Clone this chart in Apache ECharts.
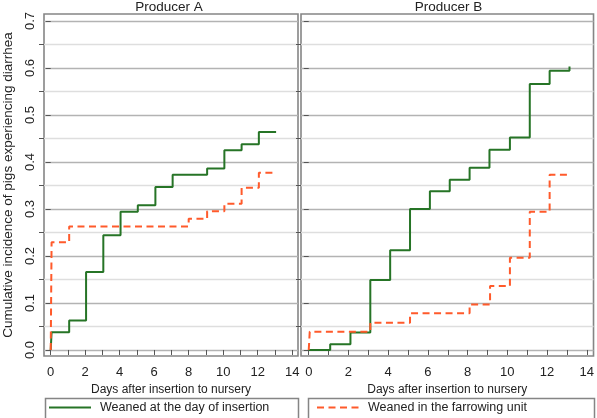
<!DOCTYPE html>
<html>
<head>
<meta charset="utf-8">
<script src="https://cdn.jsdelivr.net/npm/echarts@6/dist/echarts.min.js"></script>
<style>
html,body{margin:0;padding:0;background:#fff;}
#c{width:597px;height:418px;}
</style>
</head>
<body>
<div id="c"></div>
<script>
// ---- data ----
var panelTitles = ['Producer A', 'Producer B'];
var seriesNames = ['Weaned at the day of insertion', 'Weaned in the farrowing unit'];

var daysA_insert = [0, 0.05, 1.07, 2.05, 3.05, 4.05, 5.05, 6.07, 7.07, 9.07, 10.07, 11.07, 12.07, 13.07];
var incA_insert  = [0, 0.038, 0.063, 0.166, 0.244, 0.294, 0.308, 0.347, 0.373, 0.386, 0.425, 0.438, 0.464, 0.464];

var daysA_farrow = [0, 0.05, 1.07, 8.0, 9.07, 10.07, 11.07, 12.07, 13.07];
var incA_farrow  = [0, 0.229, 0.263, 0.279, 0.295, 0.311, 0.345, 0.377, 0.377];

var daysB_insert = [0, 1.08, 2.1, 3.1, 4.1, 5.1, 6.1, 7.1, 8.1, 9.1, 10.13, 11.13, 12.13, 13.13];
var incB_insert  = [0, 0.012, 0.037, 0.149, 0.212, 0.300, 0.338, 0.362, 0.388, 0.426, 0.452, 0.566, 0.594, 0.603];

var daysB_farrow = [0, 0.05, 3.1, 5.1, 8.1, 9.13, 10.13, 11.13, 12.13, 13.13];
var incB_farrow  = [0, 0.039, 0.058, 0.078, 0.097, 0.136, 0.196, 0.294, 0.373, 0.373];

var xTickLabels = [0, 2, 4, 6, 8, 10, 12, 14];
var xTicks = [0,1,2,3,4,5,6,7,8,9,10,11,12,13,14];
var yMajorTicks = [0, 0.1, 0.2, 0.3, 0.4, 0.5, 0.6, 0.7];
var yMinorTicks = [0.05, 0.15, 0.25, 0.35, 0.45, 0.55, 0.65];

var xAxisTitle = 'Days after insertion to nursery';
var yAxisTitle = 'Cumulative incidence of pigs experiencing diarrhea';

// ---- styling ----
var FONT = 'Liberation Sans, Arial, sans-serif';
var GREEN = '#267426';
var ORANGE = '#ff5a2b';
var BORDER = '#858585';
var MAJOR = '#b3b3b3';
var MINOR = '#dedede';
var XMIN = -0.39, XMAX = 14.34, YMIN = -0.0128, YMAX = 0.7149;

function zip(xs, ys){ return xs.map(function(x,i){ return [x, ys[i]]; }); }

var grids = [
  {left: 40, right: 299, top: 14, bottom: 62, show: true, borderColor: BORDER, borderWidth: 1.6, backgroundColor: '#fff'},
  {left: 301, right: 1, top: 14, bottom: 62, show: true, borderColor: BORDER, borderWidth: 1.6, backgroundColor: '#fff'}
];

function mkX(gi){
  return {
    type: 'value', gridIndex: gi, min: XMIN, max: XMAX,
    name: xAxisTitle, nameLocation: 'middle', nameGap: 20,
    nameTextStyle: {fontFamily: FONT, fontSize: 12, color: '#222'},
    axisLine: {show: false},
    axisTick: {show: true, length: 5, customValues: xTicks, lineStyle: {color: '#555', width: 1}},
    axisLabel: {show: true, customValues: xTickLabels, margin: 10, fontFamily: FONT, fontSize: 13, color: '#222'},
    splitLine: {show: false}
  };
}
function mkYMajor(gi, labels){
  var ax = {
    type: 'value', gridIndex: gi, min: YMIN, max: YMAX, position: 'left',
    axisLine: {show: false},
    axisTick: {show: true, length: 5, customValues: yMajorTicks, lineStyle: {color: '#555', width: 1}},
    axisLabel: {show: labels, customValues: yMajorTicks, rotate: 90, margin: 7, fontFamily: FONT, fontSize: 13, color: '#222',
      formatter: function(v){ return v.toFixed(1); }},
    splitLine: {show: true, lineStyle: {color: MAJOR, width: 1.3}}
  };
  if (labels) {
    ax.name = yAxisTitle; ax.nameLocation = 'middle'; ax.nameGap = 29; ax.nameRotate = 90;
    ax.nameTextStyle = {fontFamily: FONT, fontSize: 13.5, color: '#222'};
  }
  return ax;
}
function mkYMinor(gi){
  return {
    type: 'value', gridIndex: gi, min: YMIN, max: YMAX, position: 'left',
    axisLine: {show: false},
    axisTick: {show: true, length: 5, customValues: yMinorTicks, lineStyle: {color: '#555', width: 1}},
    axisLabel: {show: false},
    splitLine: {show: true, lineStyle: {color: MINOR, width: 1.3}}
  };
}

function stepSeries(name, xi, yi, xs, ys, color, dashed){
  return {
    name: name, type: 'line', step: 'end', xAxisIndex: xi, yAxisIndex: yi,
    data: zip(xs, ys), symbol: 'none', silent: true, animation: false, z: dashed ? 4 : 3,
    lineStyle: {color: color, width: 2, type: dashed ? [7, 4.5] : 'solid'},
    itemStyle: {color: color}
  };
}

var legendItemStyle = {color: 'rgba(0,0,0,0)', borderColor: 'rgba(0,0,0,0)', borderWidth: 0};
var option = {
  animation: false,
  backgroundColor: '#fff',
  textStyle: {fontFamily: FONT},
  grid: grids,
  xAxis: [mkX(0), mkX(1)],
  yAxis: [mkYMajor(0, true), mkYMinor(0), mkYMajor(1, false), mkYMinor(1)],
  legend: [
    {data: [seriesNames[0]], left: 43, top: 396, itemWidth: 42, itemHeight: 14, itemStyle: legendItemStyle,
     textStyle: {fontFamily: FONT, fontSize: 12.5, color: '#222', padding: [0,0,0,4]}, selectedMode: false},
    {data: [seriesNames[1]], left: 311, top: 396, itemWidth: 42, itemHeight: 14, itemStyle: legendItemStyle,
     textStyle: {fontFamily: FONT, fontSize: 12.5, color: '#222', padding: [0,0,0,4]}, selectedMode: false}
  ],
  graphic: [
    {type: 'rect', left: 43, top: 396, shape: {width: 253, height: 21}, style: {fill: 'none', stroke: BORDER, lineWidth: 1.5}, silent: true},
    {type: 'rect', left: 306, top: 396, shape: {width: 286, height: 21}, style: {fill: 'none', stroke: BORDER, lineWidth: 1.5}, silent: true},
    {type: 'text', x: 169, y: 0, style: {text: panelTitles[0], fontFamily: FONT, fontSize: 13.5, fill: '#222', textAlign: 'center', textVerticalAlign: 'top'}},
    {type: 'text', x: 448.5, y: 0, style: {text: panelTitles[1], fontFamily: FONT, fontSize: 13.5, fill: '#222', textAlign: 'center', textVerticalAlign: 'top'}}
  ],
  series: [
    stepSeries(seriesNames[0], 0, 0, daysA_insert, incA_insert, GREEN, false),
    stepSeries(seriesNames[1], 0, 0, daysA_farrow, incA_farrow, ORANGE, true),
    stepSeries(seriesNames[0], 1, 2, daysB_insert, incB_insert, GREEN, false),
    stepSeries(seriesNames[1], 1, 2, daysB_farrow, incB_farrow, ORANGE, true)
  ]
};

var chart = echarts.init(document.getElementById('c'), null, {renderer: 'canvas'});
chart.setOption(option);
</script>
</body>
</html>
